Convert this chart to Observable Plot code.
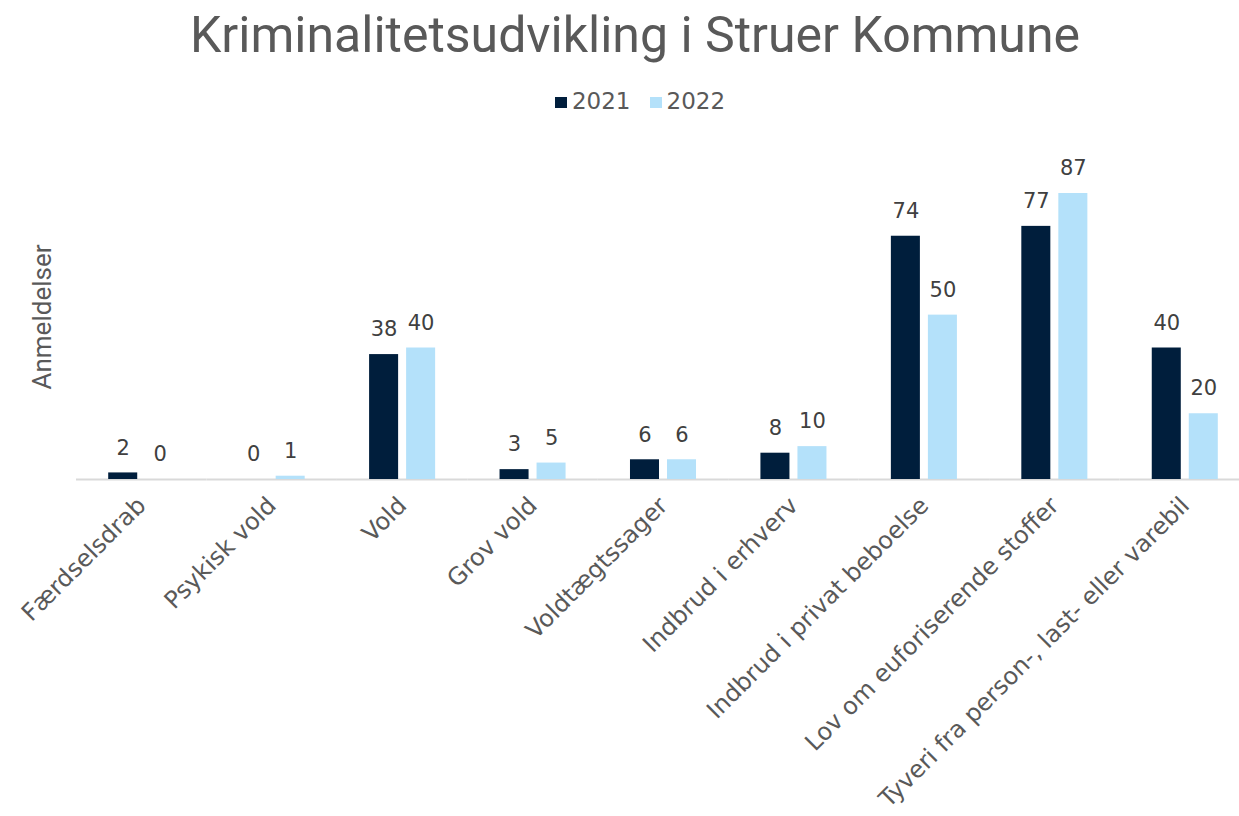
<!DOCTYPE html>
<html>
<head>
<meta charset="utf-8">
<script src="https://cdn.jsdelivr.net/npm/d3@7"></script>
<script src="https://cdn.jsdelivr.net/npm/@observablehq/plot@0.6"></script>
<style>
  html, body { margin: 0; padding: 0; background: #fff; }
  body { width: 1239px; height: 816px; overflow: hidden; position: relative; font-family: Roboto, "Noto Sans", sans-serif; }
  #title { position: absolute; left: 0; width: 1270px; top: 5px; text-align: center; font-size: 50px; color: #595959; line-height: 1.2; }
  #legend { position: absolute; left: 0; width: 1280px; top: 88px; text-align: center; font-size: 23px; color: #595959; font-family: "DejaVu Sans", sans-serif; line-height: 26px; }
  #legend span.sw { display: inline-block; width: 12px; height: 11px; margin-right: 5px; vertical-align: 1px; }
  #legend span.item + span.item { margin-left: 19px; }
  #ylabel { position: absolute; left: 42px; top: 317px; transform: translate(-50%, -50%) rotate(-90deg); font-size: 26px; color: #595959; white-space: nowrap; }
  #chart { position: absolute; left: 0; top: 0; width: 1250px; }
  #chart svg { display: block; max-width: none !important; width: 1250px !important; height: 816px !important; }
</style>
</head>
<body>
<div id="chart"></div>
<div id="title">Kriminalitetsudvikling i Struer Kommune</div>
<div id="legend"></div>
<div id="ylabel">Anmeldelser</div>
<script>
const categories = [
  "Færdselsdrab",
  "Psykisk vold",
  "Vold",
  "Grov vold",
  "Voldtægtssager",
  "Indbrud i erhverv",
  "Indbrud i privat beboelse",
  "Lov om euforiserende stoffer",
  "Tyveri fra person-, last- eller varebil"
];
const years = ["2021", "2022"];
const values2021 = [2, 0, 38, 3, 6, 8, 74, 77, 40];
const values2022 = [0, 1, 40, 5, 6, 10, 50, 87, 20];
const colors = ["#001E3C", "#B4E1FA"];

const data = categories.flatMap((c, i) => [
  {cat: c, year: years[0], value: values2021[i]},
  {cat: c, year: years[1], value: values2022[i]}
]);

const legend = document.getElementById("legend");
years.forEach((y, i) => {
  const item = document.createElement("span");
  item.className = "item";
  item.innerHTML = `<span class="sw" style="background:${colors[i]}"></span>${y}`;
  legend.appendChild(item);
});

const chart = Plot.plot({
  width: 1250,
  height: 816,
  marginTop: 193,
  marginBottom: 337,
  marginLeft: 76,
  marginRight: 0,
  style: {fontFamily: "Roboto, 'Noto Sans', sans-serif", background: "transparent", overflow: "visible"},
  fx: {domain: categories, padding: 0, round: false, label: null},
  x: {domain: years, paddingInner: 0.216, paddingOuter: 0.87, round: false, axis: null},
  y: {domain: [0, 87], axis: null},
  color: {domain: years, range: colors},
  marks: [
    Plot.ruleY([0], {stroke: "#d9d9d9", strokeWidth: 2}),
    Plot.barY(data, {fx: "cat", x: "year", y: "value", fill: "year"}),
    Plot.text(data, {fx: "cat", x: "year", y: "value", text: d => String(d.value), dy: -25, fontSize: 21, fill: "#404040", fontFamily: "DejaVu Sans"}),
    Plot.axisFx({anchor: "bottom", tickRotate: -45, tickSize: 0, tickPadding: 22, fontSize: 24, fill: "#595959", fontFamily: "DejaVu Sans", label: null})
  ]
});
document.getElementById("chart").appendChild(chart);
</script>
</body>
</html>
